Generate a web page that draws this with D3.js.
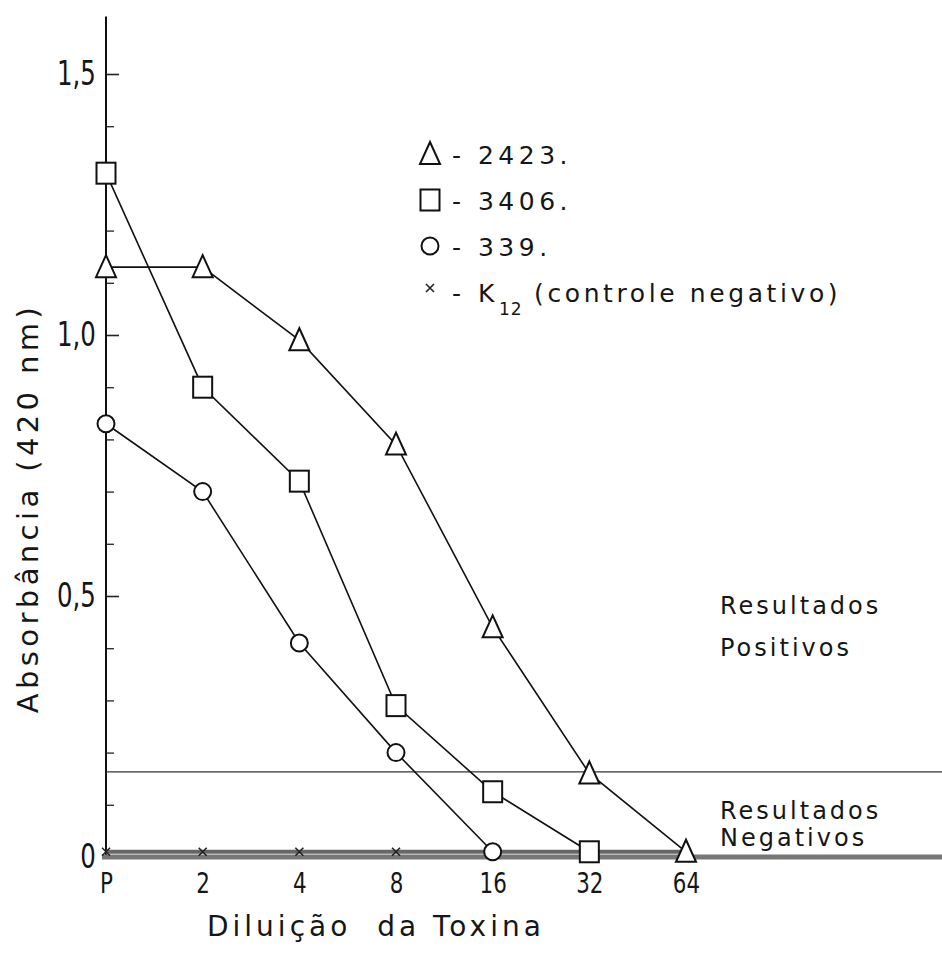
<!DOCTYPE html>
<html>
<head>
<meta charset="utf-8">
<script src="https://cdn.jsdelivr.net/npm/d3@7"></script>
<style>
body { margin: 0; background: #fff; }
svg { display: block; background: #fff; }
text { font-family: "DejaVu Sans", sans-serif; fill: #161616; white-space: pre; }
</style>
</head>
<body>
<script>
'use strict';

/* global d3 */

// dilution steps of the toxin
var dilutions = ["P", "2", "4", "8", "16", "32", "64"];

// absorbance at 420 nm, one value per dilution step
var strain2423 = [1.13, 1.13, 0.99, 0.79, 0.44, 0.16, 0.01];
var strain3406 = [1.31, 0.90, 0.72, 0.29, 0.125, 0.01];
var strain339 = [0.83, 0.70, 0.41, 0.20, 0.01];
var strainK12 = [0.01, 0.01, 0.01, 0.01, 0.01, 0.01, 0.01];

var yTickValues = [0, 0.5, 1.0, 1.5];
var yTickLabels = ["0", "0,5", "1,0", "1,5"];
var yMinorTicks = [0.1, 0.2, 0.3, 0.4, 0.6, 0.7, 0.8, 0.9, 1.1, 1.2, 1.3, 1.4];
var yAxisTop = 1.61;
var cutoffValue = 0.163;

var legendLabels = ["- 2423.", "- 3406.", "- 339.", "- K"];

var width = 942, height = 953;

var svg = d3.select("body").append("svg")
    .attr("width", width)
    .attr("height", height);

var x = d3.scalePoint().domain(dilutions).range([106, 686]);
var y = d3.scaleLinear().domain([0, 1.5]).range([857, 74]);

// y axis, ticks on the inside, narrow lettering for the labels
var yAxis = svg.append("g")
    .attr("transform", "translate(" + x("P") + ",0)")
    .call(d3.axisLeft(y)
        .tickValues(yTickValues)
        .tickFormat(function(d, i) { return yTickLabels[i]; })
        .tickSize(-13)
        .tickPadding(14));
yAxis.select(".domain").remove();
yAxis.selectAll("line").attr("stroke", "#222").attr("stroke-width", 1.6);
yAxis.selectAll("text")
    .style("font-size", "34px")
    .attr("fill", "#161616")
    .attr("transform", "scale(0.72,1)");

var yMinor = svg.append("g")
    .attr("transform", "translate(" + x("P") + ",0)")
    .call(d3.axisLeft(y).tickValues(yMinorTicks).tickFormat("").tickSize(-8));
yMinor.select(".domain").remove();
yMinor.selectAll("line").attr("stroke", "#333").attr("stroke-width", 1.4);

svg.append("line")
    .attr("x1", x("P")).attr("x2", x("P"))
    .attr("y1", y(0)).attr("y2", y(yAxisTop))
    .attr("stroke", "#111")
    .attr("stroke-width", 2);

// x axis labels only, the baseline is drawn below
var xAxis = svg.append("g")
    .attr("transform", "translate(0," + y(0) + ")")
    .call(d3.axisBottom(x).tickSize(0).tickPadding(15));
xAxis.select(".domain").remove();
xAxis.selectAll("text")
    .style("font-size", "29px")
    .attr("fill", "#161616")
    .attr("transform", "scale(0.74,1)");

// cutoff line between positive and negative results
svg.append("line")
    .attr("x1", x("P")).attr("x2", width)
    .attr("y1", y(cutoffValue)).attr("y2", y(cutoffValue))
    .attr("stroke", "#333")
    .attr("stroke-width", 1.3);

// baseline, thick and grey like the original
svg.append("line")
    .attr("x1", x("P") - 4).attr("x2", width)
    .attr("y1", y(0)).attr("y2", y(0))
    .attr("stroke", "#777")
    .attr("stroke-width", 5);

var line = d3.line()
    .x(function(d, i) { return x(dilutions[i]); })
    .y(function(d) { return y(d); });

function drawLine(values, color, w) {
    svg.append("path")
        .datum(values)
        .attr("d", line)
        .attr("fill", "none")
        .attr("stroke", color)
        .attr("stroke-width", w);
}

drawLine(strainK12, "#666", 4);
drawLine(strain339, "#111", 1.6);
drawLine(strain3406, "#111", 1.6);
drawLine(strain2423, "#111", 1.6);

var triPath = "M0,-12L10,10L-10,10Z";
var crossPath = "M-4,-4L4,4M-4,4L4,-4";

function addSymbol(sel, kind) {
    if (kind === "triangle") {
        sel.append("path").attr("d", triPath)
            .attr("fill", "#fff").attr("stroke", "#111").attr("stroke-width", 2);
    } else if (kind === "square") {
        sel.append("rect")
            .attr("x", -9.5).attr("y", -10.5).attr("width", 19).attr("height", 21)
            .attr("fill", "#fff").attr("stroke", "#111").attr("stroke-width", 2);
    } else if (kind === "circle") {
        sel.append("circle").attr("r", 8.5)
            .attr("fill", "#fff").attr("stroke", "#111").attr("stroke-width", 2);
    } else {
        sel.append("path").attr("d", crossPath)
            .attr("fill", "none").attr("stroke", "#222").attr("stroke-width", 1.6);
    }
}

function drawMarkers(values, kind) {
    var sel = svg.append("g")
        .selectAll("g.pt")
        .data(values)
        .enter()
        .append("g")
        .attr("class", "pt")
        .attr("transform", function(d, i) {
            return "translate(" + x(dilutions[i]) + "," + y(d) + ")";
        });
    addSymbol(sel, kind);
}

drawMarkers(strainK12, "cross");
drawMarkers(strain339, "circle");
drawMarkers(strain3406, "square");
drawMarkers(strain2423, "triangle");

// legend
var legendKinds = ["triangle", "square", "circle", "cross"];
var legend = svg.append("g").attr("transform", "translate(430,0)");
legendKinds.forEach(function(kind, i) {
    var row = legend.append("g")
        .attr("transform", "translate(0," + (154 + i * 46) + ")");
    var sym = row.append("g");
    if (kind === "cross") {
        sym.attr("transform", "translate(0,-4)");
    }
    addSymbol(sym, kind);
    var t = row.append("text")
        .attr("x", 22)
        .attr("y", 10)
        .style("font-size", "25px")
        .style("letter-spacing", "4.5px")
        .text(legendLabels[i]);
    if (kind === "cross") {
        t.append("tspan")
            .attr("dy", 13)
            .style("font-size", "17px")
            .style("letter-spacing", "1px")
            .text("12");
        t.append("tspan")
            .attr("dy", -13)
            .style("letter-spacing", "3.6px")
            .text(" (controle negativo)");
    }
});

// region notes
function note(lines, x0, y0, gap) {
    lines.forEach(function(s, i) {
        svg.append("text")
            .attr("x", x0)
            .attr("y", y0 + i * gap)
            .style("font-size", "24px")
            .style("letter-spacing", "3px")
            .text(s);
    });
}
note(["Resultados", "Positivos"], 720, 614, 42);
note(["Resultados", "Negativos"], 720, 819, 27);

// axis titles
svg.append("text")
    .attr("transform", "translate(38,508) rotate(-90)")
    .attr("text-anchor", "middle")
    .style("font-size", "29px")
    .style("letter-spacing", "4.4px")
    .text("Absorbância (420 nm)");

svg.append("text")
    .attr("x", 207)
    .attr("y", 936)
    .style("font-size", "28px")
    .style("letter-spacing", "4px")
    .text("Diluição  da Toxina");
</script>
</body>
</html>
